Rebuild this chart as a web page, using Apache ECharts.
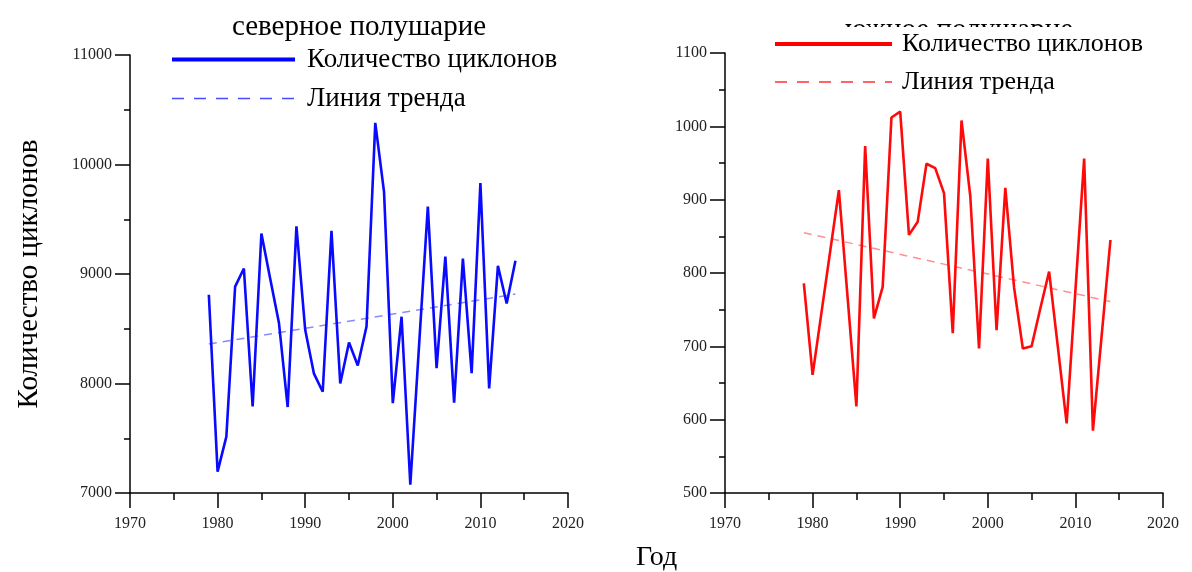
<!DOCTYPE html>
<html>
<head>
<meta charset="utf-8">
<script src="https://cdn.jsdelivr.net/npm/echarts@6/dist/echarts.min.js"></script>
<style>
html,body{margin:0;padding:0;background:#fff;}
#chart{width:1192px;height:572px;}
</style>
</head>
<body>
<div id="chart"></div>
<script>
var years = [1979,1980,1981,1982,1983,1984,1985,1986,1987,1988,1989,1990,1991,1992,1993,1994,1995,1996,1997,1998,1999,2000,2001,2002,2003,2004,2005,2006,2007,2008,2009,2010,2011,2012,2013,2014];
var northCounts = [8810,7195,7515,8885,9050,7790,9370,8960,8555,7785,9435,8490,8090,7925,9395,8000,8375,8165,8520,10380,9750,7820,8610,7075,8350,9615,8140,9160,7825,9140,8095,9830,7955,9075,8730,9120];
var southCounts = [786,661,745,829,913,766,618,973,738,781,1012,1020,852,870,949,943,909,718,1008,905,697,956,722,916,780,697,700,752,802,699,595,776,956,585,715,845];
var trendYears = [1979, 2014];
var northTrend = [8360, 8817];
var southTrend = [855, 761];
var xTicks = {min: 1970, max: 2020, interval: 10};
var northTicks = {min: 7000, max: 11000, interval: 1000};
var southTicks = {min: 500, max: 1100, interval: 100};
var titles = ['северное полушарие', 'южное полушарие'];
var seriesNames = ['Количество циклонов', 'Линия тренда'];
var yName = 'Количество циклонов';
var xName = 'Год';

function pairs(xs, ys){ return xs.map(function(x,i){ return [x, ys[i]]; }); }

var serif = 'Liberation Serif, Times New Roman, serif';
var axisColor = '#000';
function plain(v){ return String(v); }

function xAxisCfg(gi){
  return {
    type: 'value', gridIndex: gi, min: xTicks.min, max: xTicks.max, interval: xTicks.interval,
    axisLine: {show: true, lineStyle: {color: axisColor, width: 1.5}},
    axisTick: {show: true, length: 15, lineStyle: {color: axisColor, width: 1.5}},
    minorTick: {show: true, splitNumber: 2, length: 7, lineStyle: {color: axisColor, width: 1.5}},
    splitLine: {show: false},
    axisLabel: {fontFamily: serif, fontSize: 16, color: '#222', margin: 23, formatter: plain}
  };
}
function yAxisCfg(gi, t, extra){
  var o = {
    type: 'value', gridIndex: gi, min: t.min, max: t.max, interval: t.interval,
    axisLine: {show: true, onZero: false, lineStyle: {color: axisColor, width: 1.5}},
    axisTick: {show: true, length: 15, lineStyle: {color: axisColor, width: 1.5}},
    minorTick: {show: true, splitNumber: 2, length: 6, lineStyle: {color: axisColor, width: 1.5}},
    splitLine: {show: false},
    axisLabel: {fontFamily: serif, fontSize: 16, color: '#222', margin: 18, formatter: plain}
  };
  for (var k in extra) o[k] = extra[k];
  return o;
}

var chart = echarts.init(document.getElementById('chart'), null, {renderer: 'canvas'});
chart.setOption({
  animation: false,
  backgroundColor: '#fff',
  grid: [
    {left: 130, right: 624, top: 55, bottom: 79},
    {left: 725, right: 29, top: 53, bottom: 79}
  ],
  title: [
    {text: titles[0], left: 354, top: 8, textAlign: 'center', z: 2,
     textStyle: {fontFamily: serif, fontSize: 29, fontWeight: 'normal', color: '#000'}},
    {text: titles[1], left: 954, top: 11, textAlign: 'center', z: 2,
     textStyle: {fontFamily: serif, fontSize: 29, fontWeight: 'normal', color: '#000'}}
  ],
  legend: [
    {left: 170, top: 46, orient: 'vertical', padding: 0, itemGap: 12, itemWidth: 123, itemHeight: 20,
     textStyle: {fontFamily: serif, fontSize: 27, color: '#000', padding: [0,0,0,7]},
     data: [
       {name: 'n_' + seriesNames[0], itemStyle: {opacity: 0}, lineStyle: {width: 4, color: '#0000ff'}},
       {name: 'n_' + seriesNames[1], itemStyle: {opacity: 0}, lineStyle: {width: 1.5, color: '#4a4aff', type: [12, 10]}}
     ],
     formatter: function(n){ return n.slice(2); }
    },
    {left: 768, top: 27, orient: 'vertical', padding: [4, 10, 4, 5], itemGap: 12, itemWidth: 117, itemHeight: 20,
     backgroundColor: '#fff', z: 20,
     textStyle: {fontFamily: serif, fontSize: 26, color: '#000', padding: [0,0,0,5]},
     data: [
       {name: 's_' + seriesNames[0], itemStyle: {opacity: 0}, lineStyle: {width: 4, color: '#ff0000'}},
       {name: 's_' + seriesNames[1], itemStyle: {opacity: 0}, lineStyle: {width: 1.5, color: '#ff3030', type: [12, 10]}}
     ],
     formatter: function(n){ return n.slice(2); }
    }
  ],
  xAxis: [xAxisCfg(0), xAxisCfg(1)],
  yAxis: [
    yAxisCfg(0, northTicks, {name: yName, nameLocation: 'middle', nameGap: 86,
      nameTextStyle: {fontFamily: serif, fontSize: 29, color: '#000'}}),
    yAxisCfg(1, southTicks, {})
  ],
  graphic: [
    {type: 'text', left: 636, top: 544, style: {text: xName, font: '28px ' + serif, fill: '#000'}}
  ],
  series: [
    {name: 'n_' + seriesNames[0], type: 'line', xAxisIndex: 0, yAxisIndex: 0, data: pairs(years, northCounts),
     symbol: 'none', lineStyle: {color: '#0a0aff', width: 2.6}, itemStyle: {color: '#0a0aff'}, z: 3},
    {name: 'n_' + seriesNames[1], type: 'line', xAxisIndex: 0, yAxisIndex: 0, data: pairs(trendYears, northTrend),
     symbol: 'none', lineStyle: {color: '#8a8aff', width: 1.5, type: [8, 6]}, itemStyle: {color: '#8a8aff'}, z: 2},
    {name: 's_' + seriesNames[0], type: 'line', xAxisIndex: 1, yAxisIndex: 1, data: pairs(years, southCounts),
     symbol: 'none', lineStyle: {color: '#ff0a0a', width: 2.6}, itemStyle: {color: '#ff0a0a'}, z: 3},
    {name: 's_' + seriesNames[1], type: 'line', xAxisIndex: 1, yAxisIndex: 1, data: pairs(trendYears, southTrend),
     symbol: 'none', lineStyle: {color: '#ff9090', width: 1.5, type: [8, 6]}, itemStyle: {color: '#ff9090'}, z: 2}
  ]
});
</script>
</body>
</html>
